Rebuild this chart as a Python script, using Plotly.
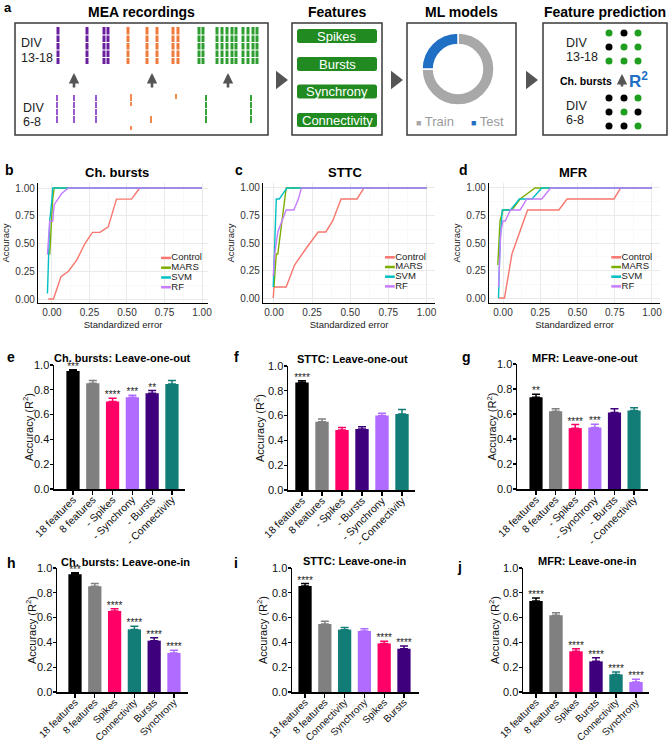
import plotly.graph_objects as go

W, H = 669, 743
FONT = "Liberation Sans, Arial, sans-serif"

# ---------------- colours ----------------
BLACK = "#000000"
GRAY = "#808080"
PINK = "#ff0066"
LPURPLE = "#b06bff"
DPURPLE = "#3f007d"
TEAL = "#117d76"

# ---------------- panel a (schematic) ----------------
TOP_PURPLE = [58, 87, 104, 108]
TOP_ORANGE = [128, 147, 157, 173, 178]
TOP_GREEN = [199, 203, 217, 222, 227, 232, 236, 243, 248, 253, 257]
BOTTOM_PURPLE = [57, 74, 96]
BOTTOM_ORANGE_X = [131, 131, 151, 176]
BOTTOM_ORANGE_Y0 = [94, 126, 115, 94]
BOTTOM_ORANGE_Y1 = [106, 130, 123, 99]
BOTTOM_GREEN = [206, 251]
UP_ARROWS_X = [74, 152, 228]
FEATURES = ["Spikes", "Bursts", "Synchrony", "Connectivity"]
FEATURE_Y = [36, 64, 91.5, 120]
SPLIT_LABELS = ["Train", "Test"]
SPLIT_VALUES = [75, 25]
SPLIT_COLORS = ["#a8a8a8", "#1f6fc4"]
DOT_X = [609, 624, 638]
DOT_TOP_Y = [33, 47, 61]
DOT_BOTTOM_Y = [98, 112, 126]
DOT_TOP_COLORS = [["g", "k", "g"], ["k", "g", "g"], ["g", "g", "g"]]
DOT_BOTTOM_COLORS = [["k", "k", "g"], ["k", "g", "k"], ["k", "k", "g"]]

# ---------------- ROC-like curves (b, c, d) ----------------
ROC_SERIES = ["Control", "MARS", "SVM", "RF"]
ROC_COLORS = ["#F8766D", "#7CAE00", "#00BFC4", "#C77CFF"]
ROC_TICKS = [0, 0.25, 0.5, 0.75, 1.0]

b_control_x = [-0.025, 0.01, 0.06, 0.11, 0.165, 0.22, 0.27, 0.32, 0.375, 0.43, 0.53, 0.585, 1.0]
b_control_y = [0, 0, 0.2, 0.25, 0.35, 0.5, 0.6, 0.6, 0.65, 0.9, 0.9, 1.0, 1.0]
b_mars_x = [-0.015, -0.005, 0.005, 0.015, 1.0]
b_mars_y = [0.4, 0.7, 0.9, 1.0, 1.0]
b_svm_x = [-0.03, -0.015, 0.0, 0.005, 1.0]
b_svm_y = [0.05, 0.7, 0.9, 1.0, 1.0]
b_rf_x = [-0.03, -0.015, 0.005, 0.015, 0.065, 0.11, 1.0]
b_rf_y = [0.4, 0.7, 0.7, 0.85, 0.95, 1.0, 1.0]

c_control_x = [-0.005, 0.0, 0.08, 0.135, 0.21, 0.29, 0.34, 0.385, 0.44, 0.545, 0.59, 1.0]
c_control_y = [0, 0.1, 0.1, 0.3, 0.45, 0.6, 0.6, 0.7, 0.9, 0.9, 1.0, 1.0]
c_mars_x = [0.0, 0.015, 0.025, 0.08, 1.0]
c_mars_y = [0.1, 0.4, 0.4, 1.0, 1.0]
c_svm_x = [-0.005, 0.015, 0.035, 0.085, 1.0]
c_svm_y = [0.1, 0.9, 0.9, 1.0, 1.0]
c_rf_x = [-0.005, 0.005, 0.025, 0.08, 0.13, 0.16, 0.18, 1.0]
c_rf_y = [0.2, 0.4, 0.6, 0.8, 0.8, 0.9, 1.0, 1.0]

d_control_x = [-0.03, 0.01, 0.06, 0.165, 0.375, 0.43, 0.745, 0.79, 1.0]
d_control_y = [0, 0, 0.4, 0.8, 0.8, 0.9, 0.9, 1.0, 1.0]
d_mars_x = [-0.035, -0.02, 0.0, 0.06, 0.115, 0.215, 1.0]
d_mars_y = [0.3, 0.7, 0.8, 0.8, 0.9, 1.0, 1.0]
d_svm_x = [-0.03, -0.02, -0.005, 0.05, 0.11, 0.195, 0.26, 1.0]
d_svm_y = [0.0, 0.5, 0.8, 0.8, 0.9, 0.9, 1.0, 1.0]
d_rf_x = [-0.03, -0.015, 0.0, 0.015, 0.05, 0.115, 0.16, 0.26, 0.32, 1.0]
d_rf_y = [0.1, 0.6, 0.7, 0.7, 0.8, 0.8, 0.9, 0.9, 1.0, 1.0]

# ---------------- bar panels (e - j) ----------------
e_labels = ["18 features", "8 features", "- Spikes", "- Synchrony", "- Bursts", "- Connectivity"]
e_values = [0.952, 0.853, 0.705, 0.740, 0.772, 0.847]
e_errors = [0.010, 0.021, 0.027, 0.016, 0.022, 0.027]
e_stars = ["***", "", "****", "***", "**", ""]
e_colors = [BLACK, GRAY, PINK, LPURPLE, DPURPLE, TEAL]

f_labels = ["18 features", "8 features", "- Spikes", "- Bursts", "- Synchrony", "- Connectivity"]
f_values = [0.866, 0.551, 0.484, 0.492, 0.600, 0.613]
f_errors = [0.016, 0.022, 0.021, 0.019, 0.018, 0.037]
f_stars = ["****", "", "", "", "", ""]
f_colors = [BLACK, GRAY, PINK, DPURPLE, LPURPLE, TEAL]

g_labels = ["18 features", "8 features", "- Spikes", "- Synchrony", "- Bursts", "- Connectivity"]
g_values = [0.735, 0.623, 0.487, 0.492, 0.612, 0.628]
g_errors = [0.024, 0.019, 0.029, 0.027, 0.030, 0.022]
g_stars = ["**", "", "****", "***", "", ""]
g_colors = [BLACK, GRAY, PINK, LPURPLE, DPURPLE, TEAL]

h_labels = ["18 features", "8 features", "Spikes", "Connectivity", "Bursts", "Synchrony"]
h_values = [0.949, 0.852, 0.653, 0.505, 0.414, 0.315]
h_errors = [0.013, 0.022, 0.019, 0.025, 0.024, 0.021]
h_stars = ["***", "", "****", "****", "****", "****"]
h_colors = [BLACK, GRAY, PINK, TEAL, DPURPLE, LPURPLE]

i_labels = ["18 features", "8 features", "Connectivity", "Synchrony", "Spikes", "Bursts"]
i_values = [0.855, 0.548, 0.503, 0.492, 0.392, 0.349]
i_errors = [0.019, 0.022, 0.017, 0.018, 0.017, 0.022]
i_stars = ["****", "", "", "", "****", "****"]
i_colors = [BLACK, GRAY, TEAL, LPURPLE, PINK, DPURPLE]

j_labels = ["18 features", "8 features", "Spikes", "Bursts", "Connectivity", "Synchrony"]
j_values = [0.734, 0.618, 0.328, 0.247, 0.142, 0.081]
j_errors = [0.024, 0.022, 0.021, 0.030, 0.019, 0.021]
j_stars = ["****", "", "****", "****", "****", "****"]
j_colors = [BLACK, GRAY, PINK, DPURPLE, TEAL, LPURPLE]


# ---------------- helpers ----------------
def px_x(x0, x1):
    return [x0 / W, x1 / W]


def px_y(y_top, y_bot):
    return [1 - y_bot / H, 1 - y_top / H]


fig = go.Figure()
annotations = []
shapes = []


def ann(text, x, y, size, bold=False, color="#000", xanchor="center", yanchor="middle", **kw):
    if bold:
        text = "<b>" + text + "</b>"
    annotations.append(dict(text=text, x=x / W, y=1 - y / H, xref="paper", yref="paper",
                            showarrow=False, xanchor=xanchor, yanchor=yanchor,
                            font=dict(size=size, color=color, family=FONT), **kw))


def vlines(xs, y0s, y1s):
    X, Y = [], []
    for x, a, b in zip(xs, y0s, y1s):
        X += [x, x, None]
        Y += [a, b, None]
    return X, Y


# ================= panel a =================
SX, SY = "x", "y"
layout_axes = {}
layout_axes["xaxis"] = dict(domain=[0, 1], range=[0, W], visible=False, fixedrange=True, automargin=False)
layout_axes["yaxis"] = dict(domain=[1 - 140 / H, 1], range=[140, 0], visible=False, fixedrange=True, automargin=False)

# boxes
for (x0, x1) in [(15, 268), (292, 382), (407, 516), (543, 667)]:
    shapes.append(dict(type="rect", xref=SX, yref=SY, x0=x0, x1=x1, y0=23, y1=135,
                       line=dict(color="#3a3a3a", width=1.5), fillcolor="rgba(0,0,0,0)"))

# spikes
groups = [
    (TOP_PURPLE, [27] * len(TOP_PURPLE), [64] * len(TOP_PURPLE), "#6a1f9e", 3),
    (TOP_ORANGE, [27] * len(TOP_ORANGE), [64] * len(TOP_ORANGE), "#ef7a3c", 3),
    (TOP_GREEN, [27] * len(TOP_GREEN), [64] * len(TOP_GREEN), "#2f9e30", 3),
    (BOTTOM_PURPLE, [95] * 3, [123] * 3, "#9a58cf", 2),
    (BOTTOM_ORANGE_X, BOTTOM_ORANGE_Y0, BOTTOM_ORANGE_Y1, "#f28a4e", 2),
    (BOTTOM_GREEN, [95] * 2, [123] * 2, "#34a534", 2),
]
for xs, a, b, col, wdt in groups:
    X, Y = vlines(xs, a, b)
    fig.add_trace(go.Scatter(x=X, y=Y, mode="lines", line=dict(color=col, width=wdt),
                             xaxis=SX, yaxis=SY, hoverinfo="skip", showlegend=False))
# white gaps making the dashed look
GX, GY = [], []
for gy in [35, 42.5, 50, 57.5]:
    GX += [50, 262, None]
    GY += [gy, gy, None]
for gy in [101.5, 108.5, 115.5]:
    GX += [50, 262, None]
    GY += [gy, gy, None]
fig.add_trace(go.Scatter(x=GX, y=GY, mode="lines", line=dict(color="white", width=1),
                         xaxis=SX, yaxis=SY, hoverinfo="skip", showlegend=False))

# triangles between boxes
fig.add_trace(go.Scatter(x=[280, 395, 530], y=[80, 80, 80], mode="markers",
                         marker=dict(symbol="triangle-right", size=16, color="#555555"),
                         xaxis=SX, yaxis=SY, hoverinfo="skip", showlegend=False))

# up arrows
for ax_ in UP_ARROWS_X + [622]:
    annotations.append(dict(x=ax_, y=73 if ax_ != 622 else 74, ax=ax_, ay=89 if ax_ != 622 else 88,
                            xref=SX, yref=SY, axref=SX, ayref=SY, text="", showarrow=True,
                            arrowhead=2, arrowsize=0.8, arrowwidth=2.6, arrowcolor="#555555"))

# feature buttons
for name, cy in zip(FEATURES, FEATURE_Y):
    x0, x1, y0, y1, r = 297, 377, cy - 7, cy + 7, 2.5
    path = (f"M{x0 + r},{y0} L{x1 - r},{y0} Q{x1},{y0} {x1},{y0 + r} L{x1},{y1 - r} "
            f"Q{x1},{y1} {x1 - r},{y1} L{x0 + r},{y1} Q{x0},{y1} {x0},{y1 - r} "
            f"L{x0},{y0 + r} Q{x0},{y0} {x0 + r},{y0} Z")
    shapes.append(dict(type="path", path=path, xref=SX, yref=SY, fillcolor="#218a21",
                       line=dict(width=0)))
    ann(name, 337, cy, 13, color="white")

# donut
fig.add_trace(go.Pie(values=SPLIT_VALUES, labels=SPLIT_LABELS, hole=0.68, sort=False,
                     direction="counterclockwise", rotation=0, textinfo="none",
                     marker=dict(colors=SPLIT_COLORS, line=dict(color="white", width=1.5)),
                     domain=dict(x=px_x(422, 494), y=px_y(33, 105)), showlegend=False,
                     hoverinfo="skip"))
ann('<span style="font-size:9px;color:#a8a8a8">■</span> Train', 414, 122, 13, color="#9a9a9a", xanchor="left")
ann('<span style="font-size:9px;color:#1f6fc4">■</span> Test', 469, 122, 13, color="#9a9a9a", xanchor="left")

# feature prediction dots
for rows, ys in [(DOT_TOP_COLORS, DOT_TOP_Y), (DOT_BOTTOM_COLORS, DOT_BOTTOM_Y)]:
    xs, yy, cs = [], [], []
    for r, y in zip(rows, ys):
        for c, x in zip(r, DOT_X):
            xs.append(x)
            yy.append(y)
            cs.append("#1f9e1f" if c == "g" else "#000000")
    fig.add_trace(go.Scatter(x=xs, y=yy, mode="markers", marker=dict(size=7, color=cs),
                             xaxis=SX, yaxis=SY, hoverinfo="skip", showlegend=False))

# panel a texts
ann("a", 2, 7, 13, bold=True, xanchor="left")
ann("MEA recordings", 141, 12, 14, bold=True)
ann("Features", 337, 12, 14, bold=True)
ann("ML models", 461, 12, 14, bold=True)
ann("Feature prediction", 605, 12, 14, bold=True)
ann("DIV", 19, 43, 12.5, color="#222", xanchor="left")
ann("13-18", 19, 58, 12.5, color="#222", xanchor="left")
ann("DIV", 21, 108, 12.5, color="#222", xanchor="left")
ann("6-8", 21, 122, 12.5, color="#222", xanchor="left")
ann("DIV", 564, 43, 12.5, color="#222", xanchor="left")
ann("13-18", 564, 57, 12.5, color="#222", xanchor="left")
ann("DIV", 564, 106, 12.5, color="#222", xanchor="left")
ann("6-8", 564, 120, 12.5, color="#222", xanchor="left")
ann("Ch. bursts", 586, 81, 10.5, bold=True)
ann("R<sup>2</sup>", 627, 80, 17, bold=True, color="#1f6fc4", xanchor="left")

# ================= ROC panels =================
roc_panels = [
    dict(n=2, xd=(38, 208), xr=[-0.093, 1.04], yr=[-0.036, 1.045], title="Ch. bursts", tx=117, letter="b", lx=3,
         data=[(b_control_x, b_control_y), (b_mars_x, b_mars_y), (b_svm_x, b_svm_y), (b_rf_x, b_rf_y)]),
    dict(n=3, xd=(263, 435), xr=[-0.072, 1.056], yr=[-0.045, 1.045], title="STTC", tx=345, letter="c", lx=233,
         data=[(c_control_x, c_control_y), (c_mars_x, c_mars_y), (c_svm_x, c_svm_y), (c_rf_x, c_rf_y)]),
    dict(n=4, xd=(489, 660), xr=[-0.094, 1.054], yr=[-0.045, 1.045], title="MFR", tx=573, letter="d", lx=457,
         data=[(d_control_x, d_control_y), (d_mars_x, d_mars_y), (d_svm_x, d_svm_y), (d_rf_x, d_rf_y)]),
]
for p in roc_panels:
    n = p["n"]
    xa, ya = f"x{n}", f"y{n}"
    for (xs, ys), name, col in zip(p["data"], ROC_SERIES, ROC_COLORS):
        fig.add_trace(go.Scatter(x=xs, y=ys, mode="lines", name=name, line=dict(color=col, width=1.4),
                                 xaxis=xa, yaxis=ya, showlegend=False, cliponaxis=False))
    # key
    lxv = 0.76
    fig.add_trace(go.Scatter(x=[lxv] * 4, y=[0.37 - k * 0.088 for k in range(4)], mode="markers+text",
                             text=ROC_SERIES, textposition="middle right",
                             textfont=dict(size=9.5, color="#222", family=FONT),
                             marker=dict(symbol="line-ew-open", size=7, color=ROC_COLORS,
                                         line=dict(color=ROC_COLORS, width=2.5)),
                             xaxis=xa, yaxis=ya, showlegend=False, hoverinfo="skip", cliponaxis=False))
    layout_axes[f"xaxis{n}"] = dict(domain=px_x(*p["xd"]), range=p["xr"], anchor=ya, automargin=False,
                                    tickvals=ROC_TICKS, tickformat=".2f", showline=True,
                                    linecolor="#000", linewidth=1.2, ticks="", showgrid=True,
                                    gridcolor="#e6e6e6", gridwidth=0.8, zeroline=False,
                                    minor=dict(dtick=0.125, tick0=0, showgrid=True, gridcolor="#f3f3f3", gridwidth=0.5),
                                    tickfont=dict(size=10, color="#333", family=FONT),
                                    title=dict(text="Standardized error", font=dict(size=9.5, color="#222", family=FONT), standoff=4))
    layout_axes[f"yaxis{n}"] = dict(domain=px_y(183, 303), range=p["yr"], anchor=xa, automargin=False,
                                    tickvals=ROC_TICKS, tickformat=".2f", showline=True,
                                    linecolor="#000", linewidth=1.2, ticks="", showgrid=True,
                                    gridcolor="#e6e6e6", gridwidth=0.8, zeroline=False,
                                    minor=dict(dtick=0.125, tick0=0, showgrid=True, gridcolor="#f3f3f3", gridwidth=0.5),
                                    tickfont=dict(size=10, color="#333", family=FONT),
                                    title=dict(text="Accuracy", font=dict(size=9.5, color="#222", family=FONT), standoff=4))
    ann(p["title"], p["tx"], 172, 13, bold=True)
    ann(p["letter"], p["lx"], 170, 14, bold=True, xanchor="left")

# ================= bar panels =================
bar_panels = [
    dict(n=5, labels=e_labels, values=e_values, errors=e_errors, stars=e_stars, colors=e_colors,
         xd=(54, 185), xr=[-0.96, 5.66], yd=(365, 489), title="Ch. bursts: Leave-one-out", tx=122, ty=358,
         letter="e", lx=5, ly=357, yt=28, lf=10.5),
    dict(n=6, labels=f_labels, values=f_values, errors=f_errors, stars=f_stars, colors=f_colors,
         xd=(288, 415), xr=[-0.7, 5.65], yd=(366, 490), title="STTC: Leave-one-out", tx=352, ty=359,
         letter="f", lx=232, ly=357, yt=259, lf=10.5),
    dict(n=7, labels=g_labels, values=g_values, errors=g_errors, stars=g_stars, colors=g_colors,
         xd=(517, 648), xr=[-0.97, 5.71], yd=(364, 489), title="MFR: Leave-one-out", tx=585, ty=358,
         letter="g", lx=460, ly=357, yt=491, lf=10.5),
    dict(n=8, labels=h_labels, values=h_values, errors=h_errors, stars=h_stars, colors=h_colors,
         xd=(57, 188), xr=[-0.91, 5.71], yd=(568, 692), title="Ch. bursts: Leave-one-in", tx=125, ty=562,
         letter="h", lx=5, ly=563, yt=31, lf=10),
    dict(n=9, labels=i_labels, values=i_values, errors=i_errors, stars=i_stars, colors=i_colors,
         xd=(292, 419), xr=[-0.66, 5.76], yd=(568, 692), title="STTC: Leave-one-in", tx=355, ty=561,
         letter="i", lx=232, ly=563, yt=262, lf=10),
    dict(n=10, labels=j_labels, values=j_values, errors=j_errors, stars=j_stars, colors=j_colors,
         xd=(523, 649), xr=[-0.65, 5.65], yd=(568, 692), title="MFR: Leave-one-in", tx=587, ty=561,
         letter="j", lx=455, ly=567, yt=494, lf=10),
]
STAR_DROP = 0.02
for p in bar_panels:
    n = p["n"]
    xa, ya = f"x{n}", f"y{n}"
    for lab, v, e, c in zip(p["labels"], p["values"], p["errors"], p["colors"]):
        fig.add_trace(go.Bar(x=[lab], y=[v], width=0.67, marker=dict(color=c, line=dict(width=0)),
                             error_y=dict(type="data", array=[e], arrayminus=[0], symmetric=False,
                                          color=c, thickness=1.5, width=4),
                             xaxis=xa, yaxis=ya, showlegend=False, hoverinfo="skip"))
    fig.add_trace(go.Scatter(x=p["labels"], y=[v + e - STAR_DROP for v, e in zip(p["values"], p["errors"])],
                             mode="text", text=p["stars"], textposition="top center",
                             textfont=dict(size=10, color="#222", family=FONT),
                             xaxis=xa, yaxis=ya, showlegend=False, hoverinfo="skip", cliponaxis=False))
    layout_axes[f"xaxis{n}"] = dict(domain=px_x(*p["xd"]), range=p["xr"], anchor=ya, type="category",
                                    automargin=False, ticklabelstandoff=-5,
                                    showline=True, linecolor="#000", linewidth=1.5, ticks="outside",
                                    ticklen=4, tickwidth=1.2, tickcolor="#000", tickangle=-45,
                                    tickfont=dict(size=p["lf"], color="#111", family=FONT), showgrid=False,
                                    zeroline=False)
    layout_axes[f"yaxis{n}"] = dict(domain=px_y(*p["yd"]), range=[0, 1.0], anchor=xa, dtick=0.2,
                                    automargin=False, ticklabelstandoff=-2,
                                    tickformat=".1f", showline=True, linecolor="#000", linewidth=1.5,
                                    ticks="outside", ticklen=3, tickwidth=1.2, tickcolor="#000",
                                    tickfont=dict(size=11, color="#111", family=FONT), showgrid=False,
                                    zeroline=False)
    ann(p["title"], p["tx"], p["ty"], 11, bold=True)
    ann(p["letter"], p["lx"], p["ly"], 14, bold=True, xanchor="left")
    ann("Accuracy (R<sup>2</sup>)", p["yt"], (p["yd"][0] + p["yd"][1]) / 2, 11, color="#111", textangle=-90)

fig.update_layout(width=W, height=H, margin=dict(l=0, r=0, t=0, b=0, pad=0, autoexpand=False),
                  paper_bgcolor="white",
                  plot_bgcolor="white", barmode="overlay", showlegend=False,
                  font=dict(family=FONT), annotations=annotations, shapes=shapes, **layout_axes)

fig.write_html("out.html", config={"displayModeBar": False, "staticPlot": True},
               post_script="document.body.style.margin='0px';document.body.style.overflow='hidden';")
